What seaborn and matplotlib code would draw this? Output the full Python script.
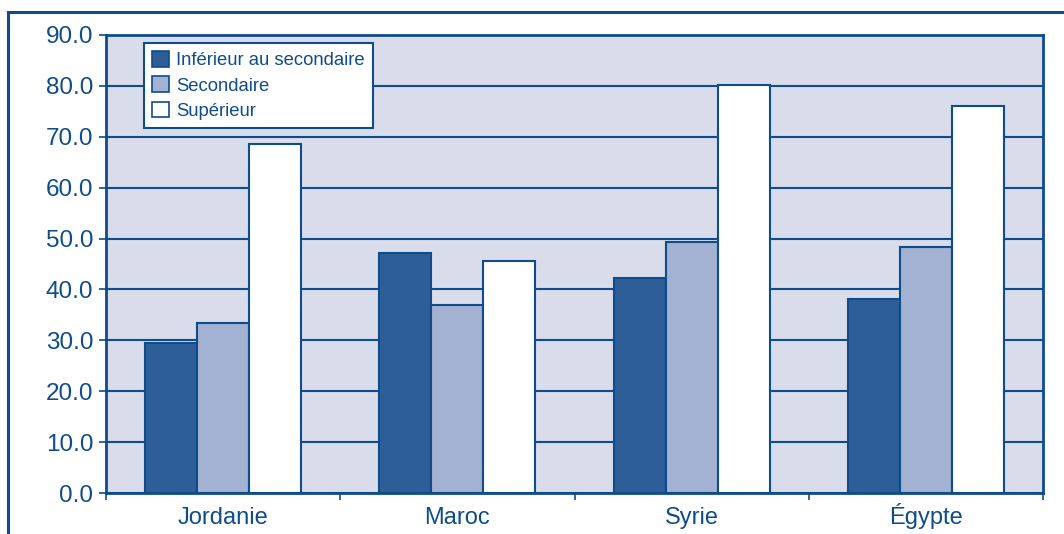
import matplotlib
matplotlib.use("Agg")
import matplotlib.pyplot as plt
from matplotlib.patches import Rectangle, Patch
from matplotlib.ticker import FixedLocator, FormatStrFormatter
import numpy as np
import pandas as pd
import seaborn as sns

# Data: share by education level and country
countries = ["Jordanie", "Maroc", "Syrie", "Égypte"]
levels = ["Inférieur au secondaire", "Secondaire", "Supérieur"]
inferieur = [29.5, 47.2, 42.2, 38.1]
secondaire = [33.5, 36.9, 49.3, 48.4]
superieur = [68.6, 45.6, 80.1, 76.1]
y_ticks = [0, 10, 20, 30, 40, 50, 60, 70, 80, 90]

navy = "#0F4C8C"
bar_colors = ["#2D5E97", "#A3B1D3", "#FFFFFF"]
bg = "#D9DCEA"

df = pd.DataFrame({
    "pays": countries * 3,
    "niveau": [levels[0]] * 4 + [levels[1]] * 4 + [levels[2]] * 4,
    "valeur": inferieur + secondaire + superieur,
})

sns.set_theme(style="white")
plt.rcParams["font.family"] = ["Liberation Sans", "DejaVu Sans"]

fig = plt.figure(figsize=(10.64, 5.34), dpi=100)
ax = fig.add_axes([106 / 1064, 41 / 534, (1043 - 106) / 1064, (493 - 35) / 534])
ax.set_facecolor(bg)

sns.barplot(
    data=df, x="pays", y="valeur", hue="niveau",
    order=countries, hue_order=levels,
    palette=bar_colors, saturation=1, width=0.667,
    edgecolor=navy, linewidth=1.5, ax=ax, legend=False, zorder=3,
)

ax.set_xlim(-0.5, len(countries) - 0.5)
ax.set_ylim(0, 90)
ax.set_yticks(y_ticks)
ax.yaxis.set_major_formatter(FormatStrFormatter("%.1f"))
ax.set_axisbelow(True)
ax.yaxis.grid(True, color=navy, linewidth=1.5)
ax.xaxis.grid(False)

# Category labels centred, tick marks on category boundaries
ax.xaxis.set_major_locator(FixedLocator(np.arange(-0.5, len(countries), 1.0)))
ax.xaxis.set_major_formatter(plt.NullFormatter())
ax.xaxis.set_minor_locator(FixedLocator(np.arange(len(countries))))
ax.set_xticklabels(countries, minor=True)
ax.tick_params(axis="x", which="minor", length=0, pad=22, labelsize=17, labelcolor=navy)
for lbl in ax.get_xticklabels(minor=True):
    lbl.set_verticalalignment("baseline")
ax.tick_params(axis="x", which="major", bottom=True, length=5, width=1.2, color=navy, direction="out")
ax.tick_params(axis="y", left=True, length=5, width=1.2, color=navy, direction="out",
               labelsize=17.5, labelcolor=navy, pad=4)
ax.set_xlabel("")
ax.set_ylabel("")

for side in ["left", "bottom", "right", "top"]:
    ax.spines[side].set_visible(True)
    ax.spines[side].set_color(navy)
    ax.spines[side].set_linewidth(2)

handles = [Patch(facecolor=c, edgecolor=navy, linewidth=1.2) for c in bar_colors]
leg = ax.legend(
    handles, levels, loc="upper left", bbox_to_anchor=(38 / 937, 1 - 8 / 458),
    frameon=True, fancybox=False, fontsize=13.3, labelcolor=navy,
    handlelength=0.92, handleheight=0.92, handletextpad=0.38, labelspacing=0.38,
    borderpad=0.45, borderaxespad=0,
)
leg.get_frame().set_edgecolor(navy)
leg.get_frame().set_linewidth(1.5)
leg.get_frame().set_facecolor("white")
leg.get_frame().set_alpha(1)

# Outer panel frame, open on the right and bottom edges
fig.add_artist(Rectangle((8 / 1064, -0.1), 1.2, (534 - 12) / 534 + 0.1,
                         transform=fig.transFigure, fill=False,
                         edgecolor=navy, linewidth=2.2, clip_on=False))

fig.savefig("out.png", dpi=100)
